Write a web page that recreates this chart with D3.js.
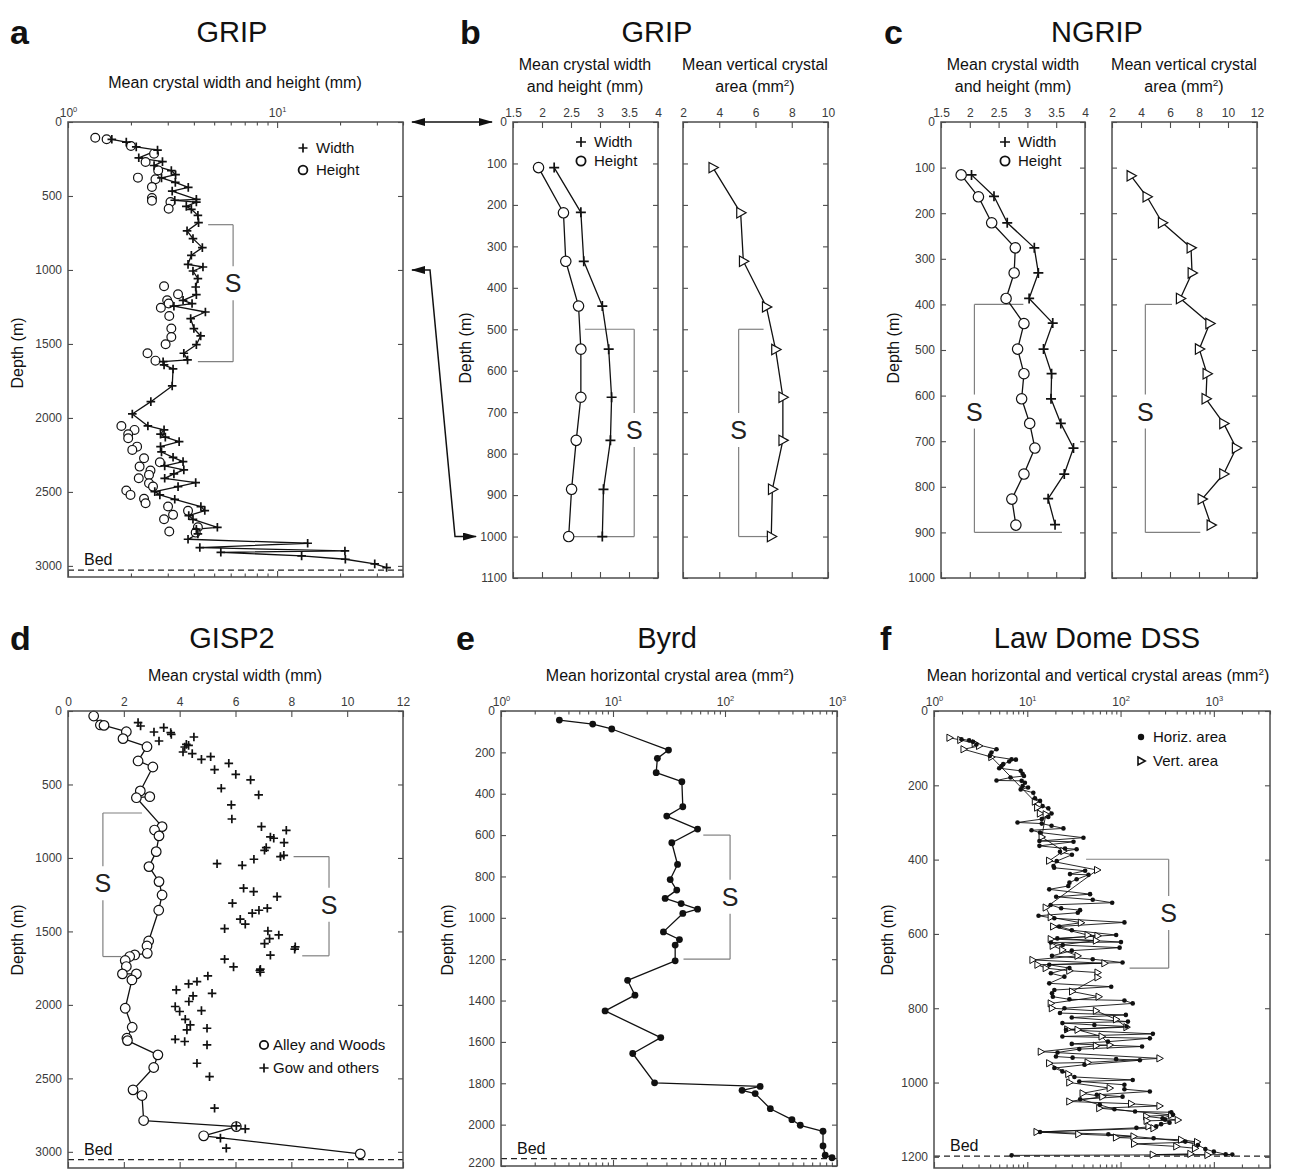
<!DOCTYPE html>
<html>
<head>
<meta charset="utf-8">
<script src="https://cdn.jsdelivr.net/npm/d3@7"></script>
<style>
  body { margin: 0; background: #fff; }
  svg text { font-family: "Liberation Sans", Arial, Helvetica, sans-serif; }
</style>
</head>
<body>
<svg id="fig" width="1289" height="1169"></svg>
<script>
// ---------------------------------------------------------------
// Crystal size profiles versus depth in six ice cores.
// Each record is a list of [depth (m), value] pairs.
// ---------------------------------------------------------------

// a: GRIP, mean crystal width and height (mm), log axis
const gripAWidth = [
  [117,1.62],[136,1.90],[168,2.12],[190,2.68],[242,2.18],[268,2.83],[294,2.58],[328,3.12],
  [356,3.27],[378,2.80],[408,3.26],[442,3.76],[467,3.15],[523,4.11],[529,3.24],[541,4.11],
  [570,3.68],[590,3.89],[631,4.18],[680,4.21],[736,3.71],[788,3.96],[849,4.39],[901,3.89],
  [962,3.75],[980,4.42],[1007,3.96],[1059,4.18],[1115,4.08],[1167,4.11],[1205,3.55],[1227,3.92],
  [1245,3.21],[1284,4.54],[1329,3.86],[1396,4.00],[1446,4.31],[1505,4.11],[1563,3.58],[1608,3.73],
  [1620,2.85],[1642,2.88],[1669,3.18],[1784,3.15],[1890,2.49],[1973,2.03],[2054,2.41],[2081,2.88],
  [2110,2.77],[2130,2.92],[2160,3.40],[2194,2.77],[2230,2.80],[2266,3.18],[2295,3.55],[2324,2.90],
  [2351,3.58],[2378,3.21],[2408,2.90],[2437,4.08],[2464,3.36],[2498,2.60],[2520,2.75],[2550,3.24],
  [2599,4.32],[2626,4.51],[2660,3.78],[2685,3.96],[2739,5.18],[2752,4.11],[2784,4.18],[2820,3.75],
  [2847,14.0],[2876,4.27],[2899,21.1],[2908,5.38],[2932,13.1],[2955,21.2],[2986,29.3],[3011,33.4]
];
const gripAHeight = [
  [106,1.35],[117,1.53],[162,2.00],[214,2.58],[270,2.35],[327,2.70],[376,2.16],[387,2.62],
  [439,2.52],[514,2.52],[532,2.52],[541,3.09],[586,3.03],[1110,2.88],[1164,3.36],[1205,2.98],
  [1227,3.03],[1255,2.78],[1311,3.05],[1396,3.12],[1453,3.12],[1502,2.93],[1563,2.40],[1613,2.62],
  [2054,1.80],[2081,2.08],[2110,1.94],[2137,1.94],[2194,2.14],[2216,2.03],[2272,2.31],[2300,2.75],
  [2329,2.20],[2356,2.48],[2385,2.44],[2408,2.18],[2441,2.44],[2464,2.55],[2491,1.90],[2520,1.99],
  [2547,2.31],[2577,2.35],[2599,3.01],[2628,3.75],[2655,3.18],[2685,2.88],[2739,4.18],[2768,3.05],
  [2775,4.08]
];

// b: GRIP, upper 1000 m
const gripBWidth  = [[110,2.21],[218,2.67],[336,2.72],[444,3.04],[548,3.15],[664,3.20],[768,3.18],[886,3.06],[1000,3.04]];
const gripBHeight = [[110,1.94],[219,2.37],[336,2.41],[444,2.63],[548,2.67],[664,2.67],[768,2.59],[886,2.51],[1000,2.46]];
const gripBArea   = [[110,3.65],[219,5.18],[336,5.33],[446,6.60],[549,7.11],[664,7.51],[768,7.51],[886,6.93],[1000,6.87]];

// c: NGRIP
const ngripWidth  = [[116,2.03],[163,2.42],[221,2.65],[276,3.12],[331,3.19],[387,3.03],[441,3.44],[498,3.28],
                     [552,3.42],[607,3.41],[661,3.58],[715,3.80],[772,3.64],[826,3.36],[883,3.48]];
const ngripHeight = [[116,1.85],[164,2.15],[221,2.38],[276,2.79],[331,2.77],[387,2.63],[442,2.94],[498,2.83],
                     [552,2.94],[607,2.90],[661,3.04],[715,3.13],[772,2.94],[827,2.73],[884,2.80]];
const ngripArea   = [[118,3.31],[164,4.41],[221,5.47],[276,7.45],[331,7.52],[387,6.71],[442,8.74],[498,8.02],
                     [552,8.55],[607,8.48],[661,9.70],[715,10.57],[772,9.70],[827,8.21],[884,8.83]];

// d: GISP2, mean crystal width (mm)
const gisp2Alley = [
  [34,0.92],[95,1.16],[98,1.29],[141,2.09],[188,1.97],[243,2.83],[340,2.51],[381,3.04],[544,2.59],
  [583,2.93],[590,2.45],[787,3.37],[810,3.10],[850,3.26],[957,3.16],[1059,2.90],[1161,3.26],
  [1252,3.37],[1356,3.25],[1565,2.89],[1599,2.83],[1649,2.84],[1660,2.39],[1671,2.21],[1698,2.05],
  [1739,2.09],[1789,1.95],[1789,2.45],[1830,2.29],[2023,2.05],[2152,2.30],[2227,2.11],[2243,2.13],
  [2340,3.22],[2426,3.07],[2578,2.33],[2617,2.65],[2787,2.71],[2828,6.03],[2891,4.86],[3014,10.47]
];
const gisp2Gow = [
  [79,2.51],[102,2.60],[113,3.43],[143,3.08],[147,3.68],[159,3.70],[177,4.51],[204,3.26],[227,4.24],
  [234,4.32],[245,4.18],[279,4.12],[290,4.45],[311,5.11],[329,4.78],[356,5.76],[399,5.25],[431,6.01],
  [469,6.54],[526,5.49],[571,6.83],[639,5.85],[735,5.87],[787,6.93],[812,7.82],[857,7.25],[866,7.37],
  [896,7.74],[930,7.10],[948,7.04],[982,7.73],[991,7.61],[1009,6.66],[1039,5.34],[1050,6.24],
  [1206,6.29],[1229,6.65],[1263,7.49],[1308,5.89],[1342,7.14],[1356,6.84],[1376,6.60],[1417,6.17],
  [1451,6.35],[1481,5.61],[1497,7.16],[1524,7.55],[1549,7.22],[1583,7.04],[1605,8.14],[1621,8.12],
  [1662,7.25],[1689,5.61],[1741,5.93],[1757,6.89],[1766,6.87],[1778,6.89],[1803,5.01],[1841,4.62],
  [1857,4.32],[1898,3.88],[1921,5.16],[1939,4.48],[1977,4.33],[2011,3.84],[2039,4.78],[2045,4.00],
  [2098,4.20],[2136,4.38],[2159,4.98],[2170,4.26],[2234,3.84],[2249,4.18],[2272,4.98],[2397,4.62],
  [2488,5.07],[2703,5.25],[2823,6.03],[2844,6.35],[2907,5.46],[2975,5.67]
];

// e: Byrd, mean horizontal crystal area (mm^2)
const byrdArea = [
  [44,3.32],[63,6.59],[87,9.75],[189,31.3],[229,24.9],[298,24.3],[342,41.2],[463,42.0],[508,30.2],
  [571,56.9],[637,33.5],[742,37.7],[815,32.4],[866,37.1],[906,29.2],[931,40.6],[958,56.9],[979,42.0],
  [1068,28.2],[1105,39.2],[1132,35.9],[1208,35.9],[1302,13.5],[1374,15.7],[1450,8.50],[1579,26.7],
  [1656,15.0],[1798,23.5],[1815,206],[1834,142],[1850,186],[1923,254],[1976,396],[2003,470],
  [2032,750],[2103,750],[2148,785],[2160,902]
];

// f: Law Dome DSS, mean horizontal and vertical crystal areas (mm^2)
const dssHoriz = [
  [76,1.97],[79,2.38],[83,2.62],[90,2.85],[103,4.68],[112,4.13],[121,3.97],[130,6.79],[131,7.55],
  [136,6.40],[143,5.52],[148,5.30],[154,5.00],[161,8.50],[169,8.91],[175,9.22],[179,6.61],[187,4.68],
  [188,8.70],[193,9.43],[202,8.91],[206,10.2],[211,8.5],[220,11.6],[235,12.1],[242,13.7],[256,14.6],
  [262,16.8],[276,18.2],[285,16.8],[291,14.3],[300,7.86],[303,14.3],[309,18.2],[316,24.4],[321,11.1],
  [327,13.7],[341,40.0],[350,13.5],[352,31.3],[363,13.5],[370,25.4],[372,33.8],[379,22.4],[387,30.1],
  [404,20.7],[417,19.1],[422,19.4],[430,41.7],[439,28.7],[441,45.3],[453,33.8],[462,28.3],[471,27.5],
  [480,17.2],[493,47.1],[500,20.4],[508,50.3],[516,81.3],[522,17.8],[531,23.1],[536,36.8],[543,34.8],
  [551,13.2],[558,19.5],[569,110],[580,22.0],[590,30.0],[603,89.7],[612,21.0],[622,101],[623,17.9],
  [630,24.0],[637,97.7],[645,30.0],[659,18.4],[668,50.3],[677,105],[683,17.2],[692,28.3],[706,17.9],
  [715,25.0],[733,17.2],[742,79.4],[751,19.5],[760,18.4],[769,18.8],[776,28.3],[779,110],[787,135],
  [800,25.0],[813,22.4],[818,114],[825,30.0],[836,120],[840,23.8],[845,52.4],[849,116],[858,26.0],
  [869,222],[876,23.8],[881,206],[890,73.3],[896,30.0],[903,170],[910,36.1],[919,21.1],[930,20.3],
  [933,30.6],[937,89.7],[940,161],[952,41.0],[961,19.5],[970,23.8],[985,32.0],[993,135],[997,36.1],
  [1006,110],[1018,110],[1024,206],[1033,55.6],[1038,105],[1045,36.9],[1060,60.0],[1072,86.0],
  [1078,143],[1080,350],[1087,365],[1096,282],[1100,300],[1108,335],[1112,272],[1118,241],[1122,148],
  [1133,13.7],[1139,74.0],[1150,226],[1159,494],[1168,675],[1179,811],[1186,1000],[1193,1340],
  [1194,1578],[1196,6.8]
];
const dssVert = [
  [72,1.47],[78,1.92],[87,2.74],[94,3.05],[103,2.08],[124,4.13],[244,12.1],[260,12.8],[276,13.7],
  [278,15.8],[339,14.3],[377,24.4],[403,17.2],[428,56.2],[529,15.8],[555,17.9],[570,37.7],[580,19.0],
  [603,44.5],[605,56.8],[614,17.9],[618,54.6],[632,18.8],[643,23.8],[659,34.7],[670,11.4],[679,67.3],
  [683,12.9],[692,15.8],[699,28.3],[704,56.8],[717,56.8],[755,30.3],[769,58.3],[787,17.9],[800,18.4],
  [807,54.6],[830,89.7],[851,116],[857,26.9],[858,34.7],[876,62.8],[899,76.7],[901,54.6],[917,14.0],
  [935,262],[946,44.5],[948,17.2],[977,27.6],[1000,28.3],[1015,76.7],[1029,39.3],[1038,63.9],
  [1051,28.3],[1057,130],[1063,262],[1069,59.3],[1087,350],[1091,189],[1101,412],[1103,191],
  [1118,200],[1123,226],[1133,12.6],[1139,35.3],[1145,138],[1148,89.6],[1154,447],[1160,663],
  [1165,140],[1172,397],[1177,630],[1192,562],[1194,222],[1195,857]
];

// Bed depths (m)
const bedDepth = { grip: 3028, gisp2: 3053, byrd: 2164, dss: 1198 };

// Axis tick values
const ticksDepthA = [0, 500, 1000, 1500, 2000, 2500, 3000];
const ticksDepthB = d3.range(0, 1101, 100);
const ticksDepthC = d3.range(0, 1001, 100);
const ticksDepthE = d3.range(0, 2201, 200);
const ticksDepthF = d3.range(0, 1201, 200);
const ticksSizeBC = [1.5, 2, 2.5, 3, 3.5, 4];
const ticksAreaB  = [2, 4, 6, 8, 10];
const ticksAreaC  = [2, 4, 6, 8, 10, 12];
const ticksWidthD = [0, 2, 4, 6, 8, 10, 12];

// ---------------------------------------------------------------
const svg = d3.select('#fig');
const FRAME = '#4d4d4d';
const GREY = '#808080';

const defs = svg.append('defs');
defs.append('marker').attr('id', 'head')
  .attr('viewBox', '0 0 14 8').attr('refX', 13).attr('refY', 4)
  .attr('markerWidth', 14).attr('markerHeight', 8)
  .attr('markerUnits', 'userSpaceOnUse').attr('orient', 'auto-start-reverse')
  .append('path').attr('d', 'M0,0L14,4L0,8Z').attr('fill', '#111');

function styleAxis(g) {
  g.select('.domain').remove();
  g.selectAll('line').attr('stroke', FRAME).attr('stroke-width', 1.1);
  g.selectAll('text').attr('font-size', 12).attr('fill', '#3a3a3a')
    .attr('font-family', '"Liberation Sans", Arial, sans-serif');
}

function frame(b) {
  svg.append('rect').attr('x', b.x0).attr('y', b.y0)
    .attr('width', b.x1 - b.x0).attr('height', b.y1 - b.y0)
    .attr('fill', 'none').attr('stroke', FRAME).attr('stroke-width', 1.5);
}

function xAxes(b, sc, ticks, fmt) {
  const top = svg.append('g').attr('transform', `translate(0,${b.y0})`)
    .call(d3.axisTop(sc).tickValues(ticks).tickSizeInner(-6).tickSizeOuter(0).tickPadding(5).tickFormat(fmt));
  styleAxis(top);
  const bot = svg.append('g').attr('transform', `translate(0,${b.y1})`)
    .call(d3.axisBottom(sc).tickValues(ticks).tickSizeInner(-6).tickSizeOuter(0).tickFormat(''));
  styleAxis(bot);
  return top;
}

function logXAxes(b, sc, majors, minors) {
  const top = xAxes(b, sc, majors, d => d);
  top.selectAll('text').each(function (d) {
    const t = d3.select(this);
    t.text('');
    t.append('tspan').text('10');
    t.append('tspan').attr('dy', -5).attr('font-size', 7.5).text(Math.round(Math.log10(d)));
  });
  [b.y0, b.y1].forEach((y, i) => {
    const ax = i === 0 ? d3.axisTop(sc) : d3.axisBottom(sc);
    const g = svg.append('g').attr('transform', `translate(0,${y})`)
      .call(ax.tickValues(minors).tickSizeInner(-3.5).tickSizeOuter(0).tickFormat(''));
    styleAxis(g);
  });
}

function yAxes(b, sc, ticks, labels = true) {
  const l = svg.append('g').attr('transform', `translate(${b.x0},0)`)
    .call(d3.axisLeft(sc).tickValues(ticks).tickSizeInner(-5).tickSizeOuter(0).tickPadding(6)
      .tickFormat(labels ? d => d : ''));
  styleAxis(l);
  const r = svg.append('g').attr('transform', `translate(${b.x1},0)`)
    .call(d3.axisRight(sc).tickValues(ticks).tickSizeInner(-5).tickSizeOuter(0).tickFormat(''));
  styleAxis(r);
  return l;
}

function text(x, y, s, size, opts = {}) {
  const t = svg.append('text').attr('x', x).attr('y', y).attr('font-size', size)
    .attr('text-anchor', opts.anchor || 'middle').attr('fill', opts.fill || '#111')
    .attr('font-weight', opts.weight || 'normal');
  if (opts.rotate) t.attr('transform', `rotate(-90,${x},${y})`);
  t.text(s);
  return t;
}

function titleWithSup(x, y, before, sup, after, size) {
  const t = svg.append('text').attr('x', x).attr('y', y).attr('font-size', size)
    .attr('text-anchor', 'middle').attr('fill', '#111');
  t.append('tspan').text(before);
  t.append('tspan').attr('dy', -6).attr('font-size', size * 0.62).text(sup);
  t.append('tspan').attr('dy', 6).text(after);
}

function depthLabel(x, y) { text(x, y, 'Depth (m)', 16, { rotate: true }); }

// S-shaped bracket marking a zone: vertical bar at xv, arms to xTop / xBot
function bracket(xs, ys, xv, d0, d1, xTop, xBot, dS) {
  const g = svg.append('g').attr('stroke', GREY).attr('stroke-width', 1.2).attr('fill', 'none');
  const X = xs(xv), yS = ys(dS), gap = 17;
  g.append('line').attr('x1', xs(xTop)).attr('x2', X).attr('y1', ys(d0)).attr('y2', ys(d0));
  g.append('line').attr('x1', xs(xBot)).attr('x2', X).attr('y1', ys(d1)).attr('y2', ys(d1));
  g.append('line').attr('x1', X).attr('x2', X).attr('y1', ys(d0)).attr('y2', yS - gap);
  g.append('line').attr('x1', X).attr('x2', X).attr('y1', yS + gap).attr('y2', ys(d1));
  text(X, yS + 9, 'S', 25, { fill: '#222' });
}

function bed(b, ys, depth) {
  svg.append('line').attr('x1', b.x0).attr('x2', b.x1).attr('y1', ys(depth)).attr('y2', ys(depth))
    .attr('stroke', '#222').attr('stroke-width', 1.2).attr('stroke-dasharray', '6,4');
  text(b.x0 + 16, ys(depth) - 5, 'Bed', 16, { anchor: 'start' });
}

function line(xs, ys, data, w = 1.3) {
  svg.append('path').datum(data)
    .attr('d', d3.line().x(d => xs(d[1])).y(d => ys(d[0])))
    .attr('fill', 'none').attr('stroke', '#111').attr('stroke-width', w).attr('stroke-linejoin', 'round');
}

// marker glyphs
const glyph = {
  plus: s => `M${-s},0H${s}M0,${-s}V${s}`,
  tri: s => `M${-s * 0.75},${-s}L${s * 1.05},0L${-s * 0.75},${s}Z`
};
function plusAt(x, y, s = 4.5) {
  svg.append('path').attr('d', glyph.plus(s)).attr('transform', `translate(${x},${y})`)
    .attr('stroke', '#111').attr('stroke-width', 1.7).attr('fill', 'none');
}
function pluses(xs, ys, data, s = 4.5) {
  svg.append('g').selectAll('path').data(data).join('path')
    .attr('d', glyph.plus(s)).attr('transform', d => `translate(${xs(d[1])},${ys(d[0])})`)
    .attr('stroke', '#111').attr('stroke-width', 1.7).attr('fill', 'none');
}
function rings(xs, ys, data, r = 4.5) {
  svg.append('g').selectAll('circle').data(data).join('circle')
    .attr('cx', d => xs(d[1])).attr('cy', d => ys(d[0])).attr('r', r)
    .attr('fill', '#fff').attr('stroke', '#111').attr('stroke-width', 1.2);
}
function dots(xs, ys, data, r = 3.3) {
  svg.append('g').selectAll('circle').data(data).join('circle')
    .attr('cx', d => xs(d[1])).attr('cy', d => ys(d[0])).attr('r', r).attr('fill', '#111');
}
function tris(xs, ys, data, s = 5, w = 1.2) {
  svg.append('g').selectAll('path').data(data).join('path')
    .attr('d', glyph.tri(s)).attr('transform', d => `translate(${xs(d[1])},${ys(d[0])})`)
    .attr('fill', '#fff').attr('stroke', '#111').attr('stroke-width', w);
}

function panelLetter(x, y, s) { text(x, y, s, 34, { anchor: 'start', weight: 'bold' }); }

// ---------------------------------------------------------------
// a  GRIP
{
  const b = { x0: 68, x1: 403, y0: 122, y1: 577 };
  const xs = d3.scaleLog().domain([1, 40]).range([b.x0, b.x1]);
  const ys = d3.scaleLinear().domain([0, 3075]).range([b.y0, b.y1]);
  panelLetter(10, 44, 'a');
  text(232, 42, 'GRIP', 29);
  text(235, 88, 'Mean crystal width and height (mm)', 16);
  logXAxes(b, xs, [1, 10], [2, 3, 4, 5, 6, 7, 8, 9, 20, 30, 40]);
  yAxes(b, ys, ticksDepthA);
  depthLabel(23, 353);
  bracket(xs, ys, 6.16, 694, 1620, 4.68, 4.18, 1090);
  bed(b, ys, bedDepth.grip);
  line(xs, ys, gripAWidth);
  rings(xs, ys, gripAHeight, 4.4);
  pluses(xs, ys, gripAWidth, 4.3);
  plusAt(303, 148, 4.5); text(316, 153, 'Width', 15, { anchor: 'start' });
  svg.append('circle').attr('cx', 303).attr('cy', 170).attr('r', 4.4).attr('fill', '#fff').attr('stroke', '#111').attr('stroke-width', 1.8);
  text(316, 175, 'Height', 15, { anchor: 'start' });

  // links to the enlarged upper section in b
  const ysB = d3.scaleLinear().domain([0, 1100]).range([122, 578]);
  svg.append('line').attr('x1', 412).attr('x2', 492).attr('y1', ys(0)).attr('y2', ys(0))
    .attr('stroke', '#111').attr('stroke-width', 1.5)
    .attr('marker-start', 'url(#head)').attr('marker-end', 'url(#head)');
  svg.append('path')
    .attr('d', `M412,${ys(1000)}L430,${ys(1000)}L455,${ysB(1000)}L476,${ysB(1000)}`)
    .attr('fill', 'none').attr('stroke', '#111').attr('stroke-width', 1.5)
    .attr('marker-start', 'url(#head)').attr('marker-end', 'url(#head)');
}

// b  GRIP upper section
{
  const bl = { x0: 513, x1: 658, y0: 122, y1: 578 };
  const br = { x0: 683, x1: 828, y0: 122, y1: 578 };
  const ys = d3.scaleLinear().domain([0, 1100]).range([122, 578]);
  const xl = d3.scaleLinear().domain([1.5, 4]).range([bl.x0, bl.x1]);
  const xr = d3.scaleLinear().domain([2, 10]).range([br.x0, br.x1]);
  panelLetter(460, 44, 'b');
  text(657, 42, 'GRIP', 29);
  text(585, 70, 'Mean crystal width', 16);
  text(585, 92, 'and height (mm)', 16);
  text(755, 70, 'Mean vertical crystal', 16);
  titleWithSup(755, 92, 'area (mm', '2', ')', 16);
  xAxes(bl, xl, ticksSizeBC, d => d);
  xAxes(br, xr, ticksAreaB, d => d);
  yAxes(bl, ys, ticksDepthB);
  yAxes(br, ys, ticksDepthB, false);
  depthLabel(471, 348);
  bracket(xl, ys, 3.59, 500, 1000, 2.74, 2.55, 743);
  bracket(xr, ys, 5.07, 500, 1000, 6.45, 6.78, 743);
  line(xl, ys, gripBWidth);
  line(xl, ys, gripBHeight);
  line(xr, ys, gripBArea);
  pluses(xl, ys, gripBWidth, 5);
  rings(xl, ys, gripBHeight, 5.2);
  tris(xr, ys, gripBArea, 5.2);
  plusAt(581, 142, 5); text(594, 147, 'Width', 15, { anchor: 'start' });
  svg.append('circle').attr('cx', 581).attr('cy', 161).attr('r', 4.6).attr('fill', '#fff').attr('stroke', '#111').attr('stroke-width', 1.8);
  text(594, 166, 'Height', 15, { anchor: 'start' });
}

// c  NGRIP
{
  const bl = { x0: 941, x1: 1085, y0: 122, y1: 578 };
  const br = { x0: 1112, x1: 1257, y0: 122, y1: 578 };
  const ys = d3.scaleLinear().domain([0, 1000]).range([122, 578]);
  const xl = d3.scaleLinear().domain([1.5, 4]).range([bl.x0, bl.x1]);
  const xr = d3.scaleLinear().domain([2, 12]).range([br.x0, br.x1]);
  panelLetter(884, 44, 'c');
  text(1097, 42, 'NGRIP', 29);
  text(1013, 70, 'Mean crystal width', 16);
  text(1013, 92, 'and height (mm)', 16);
  text(1184, 70, 'Mean vertical crystal', 16);
  titleWithSup(1184, 92, 'area (mm', '2', ')', 16);
  xAxes(bl, xl, ticksSizeBC, d => d);
  xAxes(br, xr, ticksAreaC, d => d);
  yAxes(bl, ys, ticksDepthC);
  yAxes(br, ys, ticksDepthC, false);
  depthLabel(899, 348);
  bracket(xl, ys, 2.08, 400, 900, 2.93, 3.6, 635);
  bracket(xr, ys, 4.30, 400, 900, 6.14, 8.09, 635);
  line(xl, ys, ngripWidth);
  line(xl, ys, ngripHeight);
  line(xr, ys, ngripArea);
  pluses(xl, ys, ngripWidth, 5);
  rings(xl, ys, ngripHeight, 5.2);
  tris(xr, ys, ngripArea, 5.2);
  plusAt(1005, 142, 5); text(1018, 147, 'Width', 15, { anchor: 'start' });
  svg.append('circle').attr('cx', 1005).attr('cy', 161).attr('r', 4.6).attr('fill', '#fff').attr('stroke', '#111').attr('stroke-width', 1.8);
  text(1018, 166, 'Height', 15, { anchor: 'start' });
}

// d  GISP2
{
  const b = { x0: 68, x1: 403, y0: 711, y1: 1168 };
  const xs = d3.scaleLinear().domain([0, 12]).range([b.x0, b.x1]);
  const ys = d3.scaleLinear().domain([0, 3110]).range([b.y0, b.y1]);
  panelLetter(10, 650, 'd');
  text(232, 648, 'GISP2', 29);
  text(235, 681, 'Mean crystal width (mm)', 16);
  xAxes(b, xs, ticksWidthD, d => d);
  yAxes(b, ys, ticksDepthA);
  depthLabel(23, 940);
  bracket(xs, ys, 1.25, 694, 1671, 2.65, 1.9, 1172);
  bracket(xs, ys, 9.35, 991, 1666, 8.08, 8.39, 1318);
  bed(b, ys, bedDepth.gisp2);
  line(xs, ys, gisp2Alley);
  rings(xs, ys, gisp2Alley, 4.8);
  pluses(xs, ys, gisp2Gow, 4.3);
  svg.append('circle').attr('cx', 264).attr('cy', 1045).attr('r', 4.2).attr('fill', '#fff').attr('stroke', '#111').attr('stroke-width', 1.8);
  text(273, 1050, 'Alley and Woods', 15, { anchor: 'start' });
  plusAt(264, 1068, 4.6); text(273, 1073, 'Gow and others', 15, { anchor: 'start' });
}

// e  Byrd
{
  const b = { x0: 501, x1: 837, y0: 711, y1: 1166 };
  const xs = d3.scaleLog().domain([1, 1000]).range([b.x0, b.x1]);
  const ys = d3.scaleLinear().domain([0, 2200]).range([b.y0, b.y1]);
  panelLetter(456, 650, 'e');
  text(667, 648, 'Byrd', 29);
  titleWithSup(670, 681, 'Mean horizontal crystal area (mm', '2', ')', 16);
  const minors = [];
  [1, 10, 100].forEach(p => { for (let k = 2; k <= 9; k++) minors.push(k * p); });
  logXAxes(b, xs, [1, 10, 100, 1000], minors);
  const yl = yAxes(b, ys, ticksDepthE);
  // the lowest label sits at the lower page edge; lift it onto its baseline
  yl.selectAll('.tick text').filter(d => d === 2200).attr('dy', '0em');
  depthLabel(453, 940);
  bracket(xs, ys, 111, 600, 1200, 64, 42.6, 898);
  bed(b, ys, bedDepth.byrd);
  line(xs, ys, byrdArea);
  dots(xs, ys, byrdArea, 3.4);
}

// f  Law Dome DSS
{
  const b = { x0: 934, x1: 1270, y0: 711, y1: 1168 };
  const xs = d3.scaleLog().domain([1, 4000]).range([b.x0, b.x1]);
  const ys = d3.scaleLinear().domain([0, 1230]).range([b.y0, b.y1]);
  panelLetter(880, 650, 'f');
  text(1097, 648, 'Law Dome DSS', 29);
  titleWithSup(1098, 681, 'Mean horizontal and vertical crystal areas (mm', '2', ')', 16);
  const minors = [];
  [1, 10, 100, 1000].forEach(p => { for (let k = 2; k <= 9; k++) if (k * p <= 4000) minors.push(k * p); });
  logXAxes(b, xs, [1, 10, 100, 1000], minors);
  yAxes(b, ys, ticksDepthF);
  depthLabel(893, 940);
  bracket(xs, ys, 328, 399, 692, 42.7, 125, 544);
  bed(b, ys, bedDepth.dss);
  line(xs, ys, dssHoriz, 0.9);
  line(xs, ys, dssVert, 0.9);
  tris(xs, ys, dssVert, 3.6, 1);
  dots(xs, ys, dssHoriz, 2.3);
  svg.append('circle').attr('cx', 1141).attr('cy', 737).attr('r', 3.2).attr('fill', '#111');
  text(1153, 742, 'Horiz. area', 15, { anchor: 'start' });
  svg.append('path').attr('d', glyph.tri(4)).attr('transform', 'translate(1141,761)')
    .attr('fill', '#fff').attr('stroke', '#111').attr('stroke-width', 1.6);
  text(1153, 766, 'Vert. area', 15, { anchor: 'start' });
}

// frames last so they sit on top of any clipped marks
[[68, 403, 122, 577], [513, 658, 122, 578], [683, 828, 122, 578], [941, 1085, 122, 578], [1112, 1257, 122, 578],
 [68, 403, 711, 1168], [501, 837, 711, 1166], [934, 1270, 711, 1168]]
  .forEach(([x0, x1, y0, y1]) => frame({ x0, x1, y0, y1 }));
</script>
</body>
</html>
